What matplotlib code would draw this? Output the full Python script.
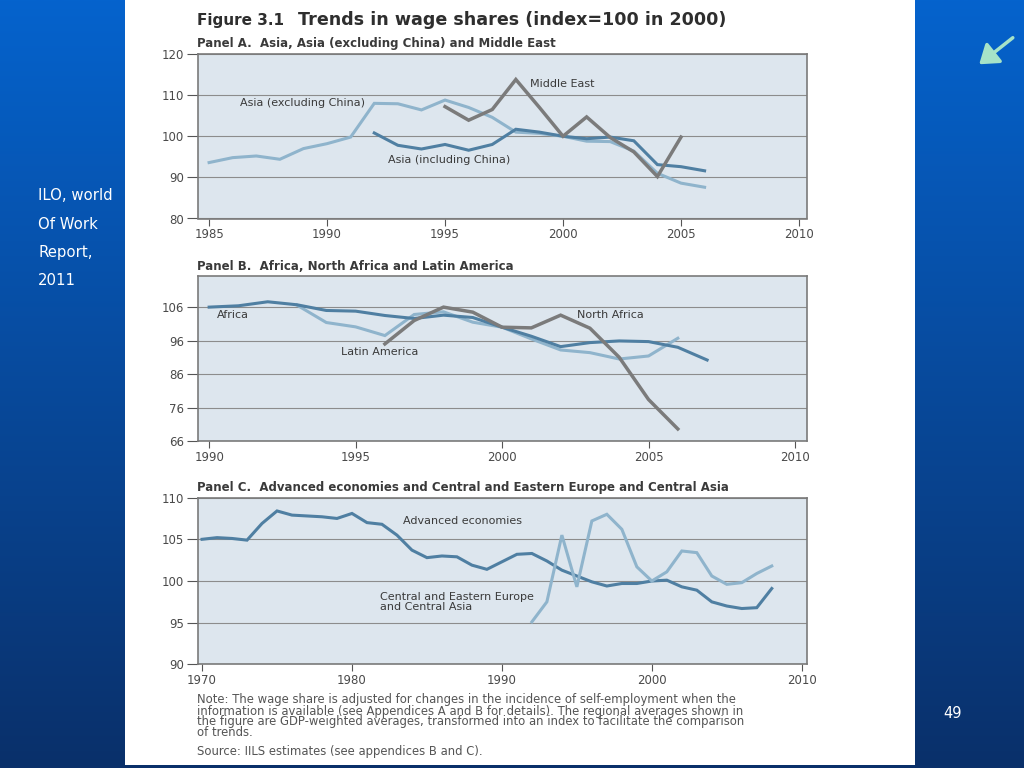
import numpy as np
import matplotlib
matplotlib.use("Agg")
import matplotlib.pyplot as plt
from matplotlib.patches import Rectangle, FancyArrowPatch

# ---------------- data ----------------
years_asia_excl = list(range(1985, 2007))
asia_excl = [93.6, 94.8, 95.2, 94.4, 97.0, 98.2, 99.8, 108.0, 107.9, 106.4, 108.8,
             107.0, 104.6, 101.0, 100.7, 100.0, 98.8, 98.7, 96.4, 91.0, 88.6, 87.6]
years_asia_incl = list(range(1992, 2007))
asia_incl = [100.8, 97.8, 96.9, 98.0, 96.6, 98.0, 101.7, 101.0, 100.0, 99.4, 99.8,
             98.9, 93.1, 92.6, 91.6]
years_me = list(range(1995, 2006))
middle_east = [107.2, 103.9, 106.5, 113.8, 107.0, 100.0, 104.7, 99.7, 96.2, 90.2, 99.8]

years_africa = list(range(1990, 2008))
africa = [106.0, 106.4, 107.6, 106.7, 105.0, 104.8, 103.5, 102.6, 103.6, 102.9,
          100.0, 97.3, 94.2, 95.4, 95.9, 95.7, 94.0, 90.2]
years_latam = list(range(1993, 2007))
latin_america = [106.6, 101.4, 100.1, 97.5, 103.8, 104.6, 101.5, 100.0, 96.5, 93.2,
                 92.4, 90.5, 91.4, 96.7]
years_nafrica = list(range(1996, 2007))
north_africa = [95.0, 102.0, 106.0, 104.5, 100.0, 99.8, 103.6, 99.7, 91.0, 78.4, 69.6]

years_adv = list(range(1970, 2009))
advanced = [105.0, 105.2, 105.1, 104.9, 106.9, 108.4, 107.9, 107.8, 107.7, 107.5,
            108.1, 107.0, 106.8, 105.5, 103.7, 102.8, 103.0, 102.9, 101.9, 101.4,
            102.3, 103.2, 103.3, 102.4, 101.3, 100.6, 99.9, 99.4, 99.7, 99.7,
            100.0, 100.1, 99.3, 98.9, 97.5, 97.0, 96.7, 96.8, 99.1]
years_cee = list(range(1992, 2009))
cee = [95.1, 97.5, 105.5, 99.3, 107.2, 108.0, 106.2, 101.7, 100.0, 101.1, 103.6,
       103.4, 100.6, 99.6, 99.8, 100.9, 101.8]

xticks_a = [1985, 1990, 1995, 2000, 2005, 2010]
yticks_a = [80, 90, 100, 110, 120]
xticks_b = [1990, 1995, 2000, 2005, 2010]
yticks_b = [66, 76, 86, 96, 106]
xticks_c = [1970, 1980, 1990, 2000, 2010]
yticks_c = [90, 95, 100, 105, 110]

title_fig = "Figure 3.1"
title_main = "Trends in wage shares (index=100 in 2000)"
title_a = "Panel A.  Asia, Asia (excluding China) and Middle East"
title_b = "Panel B.  Africa, North Africa and Latin America"
title_c = "Panel C.  Advanced economies and Central and Eastern Europe and Central Asia"
note_lines = [
    "Note: The wage share is adjusted for changes in the incidence of self-employment when the",
    "information is available (see Appendices A and B for details). The regional averages shown in",
    "the figure are GDP-weighted averages, transformed into an index to facilitate the comparison",
    "of trends.",
]
source_line = "Source: IILS estimates (see appendices B and C)."
side_lines = ["ILO, world", "Of Work", "Report,", "2011"]
page_no = "49"

# ---------------- style ----------------
DARK = "#4f7fa2"
LIGHT = "#8fb4cc"
GREY = "#7b7b7b"
BG = "#dde6ee"
TXT = "#3a3a3a"
TICK = "#4a4a4a"

W, H = 1024, 768
fig = plt.figure(figsize=(W / 100, H / 100), dpi=100)

# slide background gradient
bg = fig.add_axes([0, 0, 1, 1], zorder=-10)
grad = np.linspace(0, 1, 256).reshape(-1, 1)
top = np.array([0x05, 0x63, 0xcd]) / 255
bot = np.array([0x0a, 0x30, 0x6a]) / 255
img = top[None, None, :] * (1 - grad[:, :, None]) + bot[None, None, :] * grad[:, :, None]
bg.imshow(img, aspect="auto", extent=[0, 1, 0, 1], origin="upper")
bg.set_xlim(0, 1)
bg.set_ylim(0, 1)
bg.axis("off")

# white page
fig.patches.append(Rectangle((125 / W, 1 - 765 / H), (915 - 125) / W, 765 / H,
                             transform=fig.transFigure, facecolor="white",
                             edgecolor="none", zorder=-5))


def px(x, y):
    return x / W, 1 - y / H


def make_ax(top_px, bot_px, xlim, ylim, xticks, yticks):
    l, r = 198, 807
    ax = fig.add_axes([l / W, 1 - bot_px / H, (r - l) / W, (bot_px - top_px) / H])
    ax.set_facecolor(BG)
    for s in ax.spines.values():
        s.set_color("#7a7a7a")
        s.set_linewidth(1.2)
    ax.set_xlim(*xlim)
    ax.set_ylim(*ylim)
    ax.set_xticks(xticks)
    ax.set_yticks(yticks)
    ax.yaxis.grid(True, color="#8c8c8c", linewidth=0.8)
    ax.set_axisbelow(True)
    ax.tick_params(axis="y", direction="out", length=8, width=0.8, color="#555555",
                   labelsize=8.5, labelcolor=TICK, pad=2)
    ax.tick_params(axis="x", direction="out", length=5, width=0.8, color="#555555",
                   labelsize=8.5, labelcolor=TICK, pad=2)
    return ax


lw = 2.2
LFS = 8

# Panel A
axA = make_ax(54, 218.5, (1984.53, 2010.34), (80, 120), xticks_a, yticks_a)
axA.plot(years_asia_excl, asia_excl, color=LIGHT, lw=lw, solid_joinstyle="miter")
axA.plot(years_asia_incl, asia_incl, color=DARK, lw=lw, solid_joinstyle="miter")
axA.plot(years_me, middle_east, color=GREY, lw=2.5, solid_joinstyle="miter")
axA.text(1998.6, 112.8, "Middle East", fontsize=LFS, color=TXT, va="center")
axA.text(1986.3, 108.1, "Asia (excluding China)", fontsize=LFS, color=TXT, va="center")
axA.text(1992.6, 94.2, "Asia (including China)", fontsize=LFS, color=TXT, va="center")

# Panel B
axB = make_ax(276, 441, (1989.62, 2010.41), (66, 115.3), xticks_b, yticks_b)
axB.plot(years_latam, latin_america, color=LIGHT, lw=lw, solid_joinstyle="miter")
axB.plot(years_africa, africa, color=DARK, lw=lw, solid_joinstyle="miter")
axB.plot(years_nafrica, north_africa, color=GREY, lw=2.5, solid_joinstyle="miter")
axB.text(1990.27, 103.7, "Africa", fontsize=LFS, color=TXT, va="center")
axB.text(2002.56, 103.7, "North Africa", fontsize=LFS, color=TXT, va="center")
axB.text(1994.5, 92.7, "Latin America", fontsize=LFS, color=TXT, va="center")

# Panel C
axC = make_ax(497.6, 664.4, (1969.73, 2010.35), (90, 110), xticks_c, yticks_c)
axC.plot(years_adv, advanced, color=DARK, lw=lw, solid_joinstyle="miter")
axC.plot(years_cee, cee, color=LIGHT, lw=lw, solid_joinstyle="miter")
axC.text(1983.4, 107.2, "Advanced economies", fontsize=LFS, color=TXT, va="center")
axC.text(1981.9, 97.45, "Central and Eastern Europe\nand Central Asia", fontsize=LFS,
         color=TXT, va="center", linespacing=0.95)

# titles
fig.text(*px(197, 20), title_fig, fontsize=11, fontweight="bold", color="#2e2e2e", va="center")
fig.text(*px(298, 20), title_main, fontsize=12.6, fontweight="bold", color="#2e2e2e", va="center")
fig.text(*px(197, 43), title_a, fontsize=8.5, fontweight="bold", color=TXT, va="center")
fig.text(*px(197, 266), title_b, fontsize=8.5, fontweight="bold", color=TXT, va="center")
fig.text(*px(197, 488), title_c, fontsize=8.5, fontweight="bold", color=TXT, va="center")

for i, line in enumerate(note_lines):
    fig.text(*px(197, 700 + 11 * i), line, fontsize=8.4, color="#555555", va="center")
fig.text(*px(197, 751), source_line, fontsize=8.4, color="#555555", va="center")

# slide texts
for i, line in enumerate(side_lines):
    fig.text(*px(38, 196 + 28.3 * i), line, fontsize=10.7, color="white", va="center")
fig.text(*px(943, 713), page_no, fontsize=10.5, color="white", va="center")

# arrow
fig.patches.append(FancyArrowPatch(
    px(1015, 36), px(977, 66), transform=fig.transFigure,
    arrowstyle="-|>,head_length=5,head_width=3.5",
    mutation_scale=2.2, color="#a6e3c8", lw=2.5, zorder=5))

fig.savefig("out.png", dpi=100)
